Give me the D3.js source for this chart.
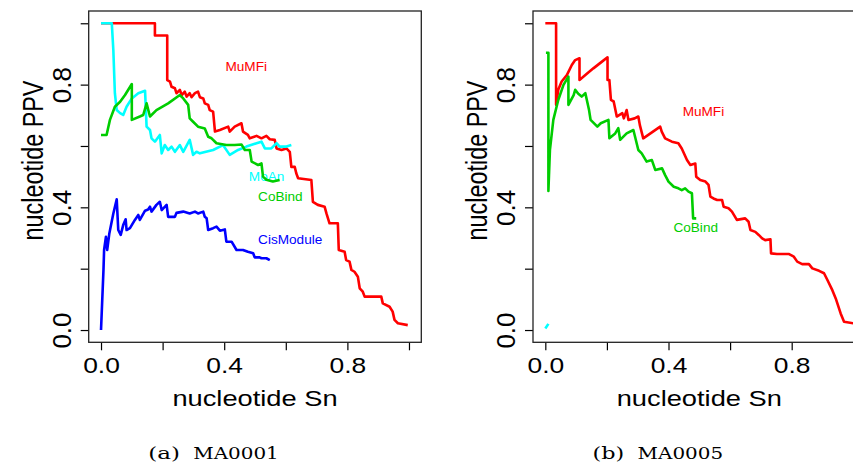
<!DOCTYPE html>
<html>
<head>
<meta charset="utf-8">
<script src="https://cdn.jsdelivr.net/npm/d3@7"></script>
<style>
  body { margin: 0; background: #fff; }
  svg { display: block; }
  .lbl { font-family: "Liberation Sans", Arial, Helvetica, sans-serif; }
</style>
</head>
<body>
<div id="chartHolder"></div>
<script>
// values, [sn, ppv]
const mumfiA = [[0.0,1.0],[0.175,1.0],[0.175,0.96],[0.215,0.96],[0.215,0.815],[0.224,0.81],[0.229,0.793],[0.24,0.788],[0.245,0.772],[0.256,0.783],[0.262,0.766],[0.272,0.777],[0.278,0.761],[0.288,0.772],[0.294,0.759],[0.305,0.772],[0.315,0.777],[0.321,0.759],[0.332,0.755],[0.337,0.739],[0.348,0.734],[0.353,0.717],[0.364,0.712],[0.37,0.647],[0.386,0.652],[0.413,0.663],[0.418,0.647],[0.434,0.663],[0.456,0.674],[0.461,0.647],[0.477,0.636],[0.483,0.625],[0.505,0.633],[0.521,0.625],[0.537,0.633],[0.548,0.622],[0.564,0.62],[0.57,0.592],[0.586,0.587],[0.602,0.592],[0.613,0.581],[0.618,0.532],[0.629,0.532],[0.634,0.511],[0.64,0.495],[0.683,0.489],[0.688,0.418],[0.704,0.408],[0.726,0.402],[0.732,0.38],[0.742,0.348],[0.769,0.348],[0.772,0.261],[0.791,0.255],[0.796,0.228],[0.807,0.223],[0.813,0.196],[0.823,0.19],[0.834,0.174],[0.84,0.136],[0.85,0.125],[0.856,0.109],[0.91,0.109],[0.915,0.087],[0.937,0.076],[0.947,0.06],[0.953,0.033],[0.964,0.022],[0.996,0.016]];
const moanA = [[0,1.0],[0.035,1.0],[0.04,0.913],[0.045,0.772],[0.051,0.717],[0.062,0.707],[0.072,0.701],[0.083,0.728],[0.1,0.755],[0.121,0.772],[0.143,0.78],[0.148,0.663],[0.159,0.652],[0.164,0.625],[0.175,0.614],[0.191,0.636],[0.197,0.576],[0.207,0.603],[0.218,0.587],[0.229,0.598],[0.24,0.581],[0.256,0.603],[0.267,0.581],[0.288,0.62],[0.299,0.571],[0.31,0.581],[0.321,0.576],[0.364,0.587],[0.396,0.603],[0.418,0.571],[0.445,0.587],[0.472,0.598],[0.505,0.609],[0.521,0.614],[0.532,0.592],[0.553,0.592],[0.57,0.609],[0.58,0.598],[0.602,0.598],[0.618,0.603]];
const cobindA = [[0,0.636],[0.018,0.636],[0.029,0.685],[0.045,0.728],[0.062,0.744],[0.078,0.766],[0.1,0.802],[0.1,0.685],[0.126,0.696],[0.137,0.701],[0.148,0.739],[0.159,0.696],[0.18,0.717],[0.218,0.739],[0.256,0.766],[0.267,0.755],[0.283,0.734],[0.288,0.69],[0.299,0.679],[0.315,0.663],[0.337,0.657],[0.348,0.63],[0.359,0.625],[0.375,0.609],[0.407,0.603],[0.434,0.603],[0.456,0.605],[0.467,0.587],[0.483,0.587],[0.489,0.549],[0.51,0.538],[0.521,0.543],[0.526,0.5],[0.537,0.49],[0.558,0.484],[0.58,0.489]];
const cisA = [[0,0],[0.008,0.196],[0.01,0.261],[0.016,0.304],[0.02,0.261],[0.027,0.315],[0.04,0.38],[0.051,0.426],[0.056,0.326],[0.064,0.31],[0.072,0.342],[0.08,0.361],[0.083,0.326],[0.094,0.332],[0.11,0.359],[0.121,0.375],[0.126,0.359],[0.143,0.389],[0.153,0.393],[0.159,0.402],[0.164,0.386],[0.18,0.408],[0.191,0.418],[0.197,0.391],[0.213,0.408],[0.218,0.369],[0.24,0.369],[0.245,0.382],[0.267,0.386],[0.288,0.38],[0.305,0.386],[0.315,0.38],[0.332,0.386],[0.337,0.369],[0.343,0.364],[0.348,0.326],[0.364,0.332],[0.375,0.337],[0.386,0.324],[0.402,0.328],[0.407,0.288],[0.424,0.288],[0.44,0.261],[0.461,0.261],[0.477,0.255],[0.494,0.25],[0.499,0.237],[0.515,0.237],[0.521,0.234],[0.537,0.234],[0.548,0.228]];

const mumfiB = [[0,1.0],[0.035,1.0],[0.035,0.734],[0.042,0.783],[0.053,0.81],[0.07,0.831],[0.086,0.864],[0.097,0.88],[0.111,0.886],[0.111,0.815],[0.13,0.831],[0.156,0.853],[0.184,0.875],[0.202,0.889],[0.202,0.815],[0.208,0.815],[0.213,0.75],[0.222,0.745],[0.232,0.696],[0.25,0.707],[0.255,0.69],[0.264,0.717],[0.27,0.685],[0.29,0.69],[0.302,0.696],[0.307,0.668],[0.318,0.625],[0.373,0.663],[0.378,0.647],[0.389,0.625],[0.411,0.614],[0.432,0.609],[0.443,0.592],[0.46,0.554],[0.471,0.538],[0.487,0.543],[0.49,0.5],[0.503,0.489],[0.52,0.484],[0.53,0.473],[0.536,0.435],[0.546,0.429],[0.558,0.424],[0.574,0.424],[0.579,0.402],[0.595,0.397],[0.606,0.386],[0.622,0.359],[0.649,0.364],[0.66,0.353],[0.666,0.326],[0.682,0.32],[0.693,0.31],[0.704,0.299],[0.714,0.293],[0.731,0.296],[0.733,0.25],[0.752,0.248],[0.79,0.248],[0.807,0.239],[0.818,0.223],[0.834,0.215],[0.856,0.215],[0.867,0.201],[0.889,0.193],[0.905,0.185],[0.916,0.163],[0.932,0.13],[0.943,0.103],[0.959,0.054],[0.97,0.027],[1.0,0.022]];
const cobindB = [[0.002,0.904],[0.01,0.904],[0.01,0.453],[0.015,0.587],[0.026,0.685],[0.042,0.75],[0.059,0.799],[0.075,0.826],[0.075,0.734],[0.092,0.766],[0.097,0.783],[0.107,0.77],[0.118,0.761],[0.13,0.772],[0.142,0.717],[0.147,0.685],[0.169,0.663],[0.18,0.674],[0.205,0.685],[0.208,0.625],[0.227,0.641],[0.237,0.658],[0.243,0.62],[0.264,0.641],[0.286,0.652],[0.302,0.587],[0.313,0.576],[0.329,0.549],[0.346,0.554],[0.357,0.522],[0.379,0.527],[0.389,0.505],[0.4,0.484],[0.417,0.467],[0.432,0.462],[0.443,0.456],[0.454,0.462],[0.465,0.451],[0.476,0.446],[0.48,0.364],[0.49,0.364]];
const moanB = [[0,0.005],[0.01,0.02]];

const tickVals = [0, 0.2, 0.4, 0.6, 0.8, 1.0];
const tickLabels = ["0.0", "", "0.4", "", "0.8", ""];

const panels = [
  { left: 88.7, caption: ["(a)", "MA0001"],
    series: [
      { pts: mumfiA, color: "#ff0000", name: "MuMFi", at: [0.404, 0.845] },
      { pts: moanA, color: "#00ffff", name: "MoAn", at: [0.48, 0.487] },
      { pts: cobindA, color: "#00cd00", name: "CoBind", at: [0.51, 0.422] },
      { pts: cisA, color: "#0000ff", name: "CisModule", at: [0.51, 0.28] }
    ] },
  { left: 533, caption: ["(b)", "MA0005"],
    series: [
      { pts: mumfiB, color: "#ff0000", name: "MuMFi", at: [0.446, 0.698] },
      { pts: moanB, color: "#00ffff", name: null },
      { pts: cobindB, color: "#00cd00", name: "CoBind", at: [0.416, 0.32] }
    ] }
];

const w = 853, h = 470;
const boxW = 332.6, boxTop = 11, boxBottom = 342.3;

const svg = d3.select("#chartHolder").append("svg")
  .attr("width", w).attr("height", h);

const y = d3.scaleLinear().domain([-0.04, 1.04]).range([boxBottom, boxTop]);

panels.forEach((p) => {
  const x = d3.scaleLinear().domain([-0.04, 1.04]).range([p.left, p.left + boxW]);
  const g = svg.append("g");
  const fmt = (d) => tickLabels[tickVals.indexOf(d)];

  const xAxis = g.append("g")
    .attr("transform", "translate(0," + boxBottom + ")")
    .call(d3.axisBottom(x).tickValues(tickVals).tickSize(8).tickSizeOuter(0).tickFormat(fmt));
  xAxis.selectAll("text")
    .attr("y", 0).attr("dy", null)
    .attr("transform", "translate(0,31) scale(1.2,1)")
    .attr("class", "lbl").style("font-size", "22px").attr("fill", "#000");

  const yAxis = g.append("g")
    .attr("transform", "translate(" + p.left + ",0)")
    .call(d3.axisLeft(y).tickValues(tickVals).tickSize(8).tickSizeOuter(0).tickFormat(fmt));
  yAxis.selectAll("text")
    .attr("x", 0).attr("dy", null)
    .attr("transform", "translate(-18,0) rotate(-90)")
    .attr("text-anchor", "middle")
    .attr("class", "lbl").style("font-size", "26px").attr("fill", "#000");
  g.selectAll(".tick line").attr("stroke", "#000").attr("stroke-width", 1.2);
  g.selectAll(".domain").attr("stroke", "none");

  const line = d3.line().x((d) => x(d[0])).y((d) => y(d[1]));
  p.series.forEach((s) => {
    g.append("path")
      .datum(s.pts)
      .attr("d", line)
      .attr("fill", "none")
      .attr("stroke", s.color)
      .attr("stroke-width", 2.6)
      .attr("stroke-linejoin", "round");
    if (s.name) {
      g.append("text")
        .attr("class", "lbl")
        .attr("x", x(s.at[0])).attr("y", y(s.at[1]))
        .attr("fill", s.color)
        .style("font-size", "13.6px")
        .text(s.name);
    }
  });

  g.append("rect")
    .attr("x", p.left).attr("y", boxTop)
    .attr("width", boxW).attr("height", boxBottom - boxTop)
    .attr("fill", "none").attr("stroke", "#222").attr("stroke-width", 1.3);

  // axis titles
  g.append("text")
    .attr("class", "lbl")
    .attr("text-anchor", "middle")
    .attr("transform", "translate(" + (p.left + boxW / 2) + ",406) scale(1.24,1)")
    .style("font-size", "22px")
    .text("nucleotide Sn");
  g.append("text")
    .attr("class", "lbl")
    .attr("text-anchor", "middle")
    .attr("transform", "translate(" + (p.left - 46) + ",160.5) scale(1.3,1) rotate(-90)")
    .style("font-size", "23.4px")
    .text("nucleotide PPV");

  // caption
  const cx = p.left + 59.6;
  g.append("text")
    .attr("x", cx).attr("y", 459.3)
    .attr("textLength", 31.7).attr("lengthAdjust", "spacingAndGlyphs")
    .style("font-family", "'DejaVu Serif', 'Liberation Serif', serif")
    .style("font-size", "17px")
    .style("font-weight", "300")
    .text(p.caption[0]);
  g.append("text")
    .attr("x", cx + 45).attr("y", 459.3)
    .attr("textLength", 85.5).attr("lengthAdjust", "spacingAndGlyphs")
    .style("font-family", "'DejaVu Serif', 'Liberation Serif', serif")
    .style("font-size", "17px")
    .style("font-weight", "300")
    .text(p.caption[1]);
});
</script>
</body>
</html>
